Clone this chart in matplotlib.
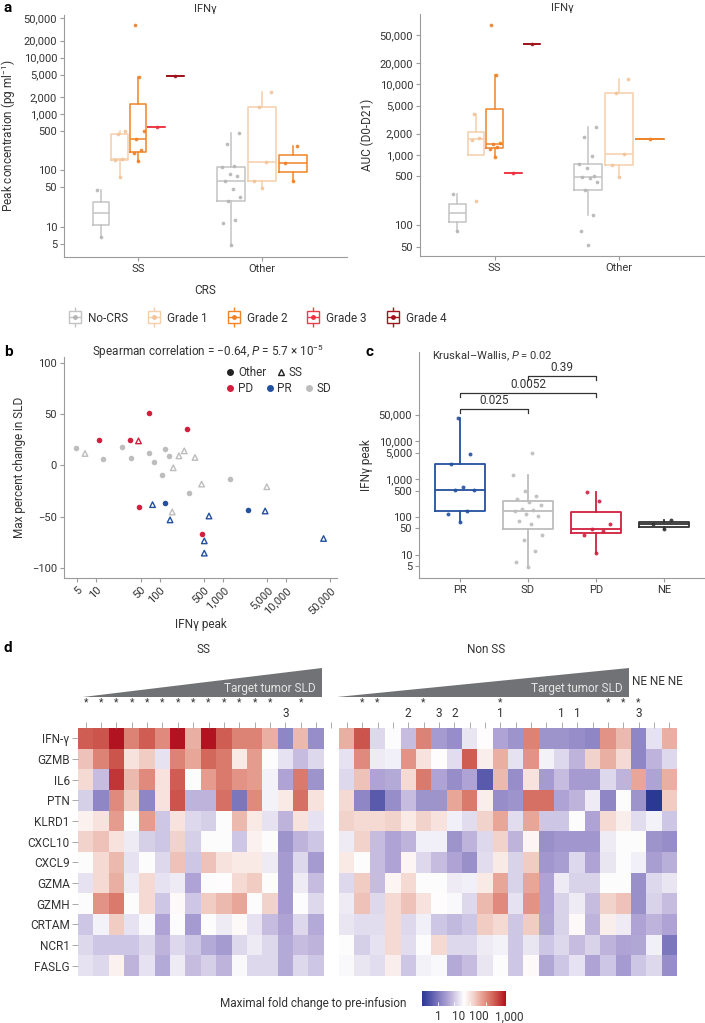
import numpy as np
import matplotlib.pyplot as plt
from matplotlib.colors import LinearSegmentedColormap, Normalize
from matplotlib.lines import Line2D
from matplotlib.legend_handler import HandlerTuple
from matplotlib.patches import Polygon

plt.rcParams['font.family'] = ['Roboto', 'DejaVu Sans']
plt.rcParams['font.size'] = 8
plt.rcParams['mathtext.fontset'] = 'custom'
plt.rcParams['mathtext.rm'] = 'Roboto'
plt.rcParams['mathtext.it'] = 'Roboto:italic'
plt.rcParams['axes.edgecolor'] = '#9b9b9b'
plt.rcParams['axes.linewidth'] = 0.8
plt.rcParams['xtick.color'] = '#9b9b9b'
plt.rcParams['ytick.color'] = '#9b9b9b'
plt.rcParams['xtick.labelcolor'] = '#333333'
plt.rcParams['ytick.labelcolor'] = '#333333'
plt.rcParams['text.color'] = '#333333'
plt.rcParams['axes.labelcolor'] = '#333333'

W, H = 705, 1023

# ---------------- data: panel a ----------------
crs_levels = ['No-CRS', 'Grade 1', 'Grade 2', 'Grade 3', 'Grade 4']
crs_colors = ['#c3c3c3', '#f5cfa9', '#f0842a', '#ee3d48', '#a3151e']
crs_point_colors = ['#b5b5b5', '#f2c39a', '#f07f26', '#ec3340', '#9e131c']

peak_ss_nocrs = [6.6, 44.8]
peak_ss_g1 = [75, 155, 160, 450, 500]
peak_ss_g2 = [147, 200, 231, 355, 493, 4480, 38500]
peak_ss_g3 = [596]
peak_ss_g4 = [4790]
peak_other_nocrs = [4.7, 11.8, 13, 28, 34, 47, 66, 79, 86, 113, 121, 290, 454]
peak_other_g1 = [48, 66, 139, 1310, 2430]
peak_other_g2 = [66, 133, 274]

auc_ss_nocrs = [83, 276]
auc_ss_g1 = [222, 1640, 1760, 3795]
auc_ss_g2 = [944, 1200, 1276, 1426, 1455, 13400, 70000]
auc_ss_g3 = [560]
auc_ss_g4 = [37250]
auc_other_nocrs = [52, 83, 141, 318, 410, 476, 481, 507, 659, 741, 964, 1790, 2480]
auc_other_g1 = [491, 718, 1018, 7530, 12000]
auc_other_g2 = [1680]

peak_ticks = [5, 10, 50, 100, 500, 1000, 2000, 5000, 10000, 20000, 50000]
auc_ticks = [50, 100, 500, 1000, 2000, 5000, 10000, 20000, 50000]

# ---------------- data: panel b ----------------
b_peak = [4.8, 6.6, 11.0, 12.6, 25.2, 33.7, 34.6, 46.3, 47.5, 66.7, 68.8, 80.0,
          77.2, 110, 121, 121, 140, 158, 146, 164, 202, 245, 270, 294, 362, 461,
          461, 508, 508, 603, 1313, 2535, 4660, 4950, 39100]
b_change = [17.5, 11.7, 25.3, 6.2, 17.9, 25.3, 6.8, 24.0, -40.6, 51.6, 12.3, 3.6,
            -38.3, -9.4, -36.7, 15.9, 9.7, -45.5, -53.2, -2.3, 9.4, 14.3, 35.4, -27.3,
            7.8, -18.2, -66.9, -73.7, -85.7, -49.4, -13.6, -43.8, -44.5, -20.8, -71.4]
b_response = ['SD', 'SD', 'PD', 'SD', 'SD', 'PD', 'SD', 'PD', 'PD', 'PD', 'SD', 'SD',
              'PR', 'SD', 'PR', 'SD', 'SD', 'SD', 'PR', 'SD', 'SD', 'SD', 'PD', 'SD',
              'SD', 'SD', 'PD', 'PR', 'PR', 'PR', 'SD', 'PR', 'PR', 'SD', 'PR']
b_indication = ['Other', 'SS', 'Other', 'Other', 'Other', 'Other', 'Other', 'SS',
                'Other', 'Other', 'Other', 'Other', 'SS', 'Other', 'Other', 'Other',
                'Other', 'SS', 'SS', 'SS', 'SS', 'SS', 'Other', 'Other', 'SS', 'SS',
                'Other', 'SS', 'SS', 'SS', 'Other', 'Other', 'SS', 'SS', 'SS']
resp_colors = {'PD': '#d0203f', 'PR': '#24519f', 'SD': '#bdbdbd', 'NE': '#333333'}
log_ticks = [5, 10, 50, 100, 500, 1000, 5000, 10000, 50000]

# ---------------- data: panel c ----------------
c_groups = ['PR', 'SD', 'PD', 'NE']
c_pr = [75, 122, 147, 526, 526, 618, 2550, 4590, 40800]
c_sd = [4.7, 6.6, 12.4, 24.8, 34, 67, 77, 108, 120, 141, 156, 163, 203, 244, 299,
        366, 475, 1309, 4980]
c_pd = [11, 34.2, 42.8, 47.3, 67, 270, 456]
c_ne = [48, 65, 82]
c_pvals = ['0.025', '0.0052', '0.39']
c_pairs = [(0, 1), (0, 2), (1, 2)]

# ---------------- data: panel d ----------------
genes = ['IFN-γ', 'GZMB', 'IL6', 'PTN', 'KLRD1', 'CXCL10', 'CXCL9', 'GZMA', 'GZMH',
         'CRTAM', 'NCR1', 'FASLG']
# log10 maximal fold change, SS patients
ss_fold = [
    [3.5, 3.6, 4.2, 3.1, 3.5, 3.0, 4.2, 2.6, 4.2, 3.5, 3.1, 3.1, 2.6, 0.2, 2.5, 0.3],
    [2.4, 3.1, 3.6, 2.0, 2.3, 1.3, 3.1, 2.7, 3.4, 3.2, 1.9, 2.8, 1.6, 1.3, 0.9, 1.2],
    [2.1, 0.9, 3.9, 2.5, 3.0, 2.0, 3.5, 1.6, 2.8, 3.2, 2.9, 2.8, 1.5, 0.6, 3.2, 0.4],
    [1.1, 0.2, 3.0, 2.3, 0.2, 2.0, 3.6, 0.8, 0.8, 3.3, 0.0, 3.0, 1.5, 1.9, 3.3, 2.0],
    [1.8, 2.0, 2.8, 1.6, 2.8, 1.0, 2.0, 1.2, 1.1, 1.6, 2.5, 1.9, 1.3, 0.8, 2.0, 1.3],
    [2.2, 2.4, 2.0, 1.4, 1.1, 1.0, 2.2, 1.1, 1.6, 1.6, 1.0, 1.8, 1.6, 0.4, 0.8, 1.0],
    [1.6, 2.1, 2.5, 1.3, 1.6, 1.2, 2.4, 1.0, 2.4, 2.0, 1.9, 1.9, 1.4, 0.5, 1.2, 0.5],
    [1.3, 2.1, 2.6, 1.4, 2.1, 1.3, 1.4, 0.6, 1.6, 1.65, 2.1, 2.3, 1.6, 0.5, 1.4, 0.9],
    [1.6, 2.9, 3.2, 1.6, 2.1, 1.0, 1.7, 1.0, 2.3, 2.5, 2.7, 1.6, 2.2, 0.5, 1.6, 1.2],
    [1.0, 1.5, 2.3, 1.3, 1.55, 0.6, 1.6, 0.5, 1.6, 1.4, 1.7, 1.3, 0.9, 0.6, 1.2, 0.7],
    [1.2, 1.0, 1.0, 1.0, 1.2, 0.8, 1.2, 1.0, 0.7, 0.5, 1.2, 1.4, 1.2, 0.7, 0.9, 0.8],
    [1.3, 1.2, 1.8, 0.8, 1.3, 0.7, 1.4, 0.9, 1.1, 0.8, 1.55, 1.2, 1.2, 0.7, 1.2, 1.0],
]
# log10 maximal fold change, non-SS patients
nss_fold = [
    [2.6, 3.6, 1.2, 1.6, 0.9, 3.1, 0.5, 0.3, 1.35, 1.65, 0.6, 0.4, 3.1, 0.4, 0.4, 0.3, 0.2, 2.9, 2.5, 0.2, 1.3, 2.6],
    [1.3, 3.0, 1.4, 1.45, 2.9, 2.0, 1.65, 1.25, 3.5, 1.85, 2.6, 1.3, 2.9, 1.5, 1.2, 0.8, 2.2, 2.6, 2.1, 0.2, 0.8, 1.2],
    [1.2, 2.4, 0.6, 0.7, 2.1, 3.2, 0.6, 0.3, 0.6, -0.4, 2.5, 0.3, 2.0, 0.5, 0.9, 0.5, 0.5, 1.2, 0.8, 2.7, 0.6, 2.6],
    [2.1, 0.2, -0.4, 0.3, 0.9, 0.4, 0.4, 2.7, 3.2, 1.85, 0.3, 0.4, 3.3, 3.3, 0.6, 0.8, 1.4, 0.2, 1.6, 0.4, -1.0, 2.3],
    [2.2, 2.1, 2.1, 2.2, 1.9, 2.2, 2.0, 1.45, 1.25, 2.2, 2.7, 1.25, 2.7, 1.0, 1.0, 1.6, 0.6, 2.1, 1.85, 1.25, 1.5, 1.0],
    [1.4, 2.2, 0.9, 0.6, 0.8, 1.45, 1.45, 0.4, 0.8, 1.2, 2.2, 0.8, 1.75, 0.35, 0.45, 0.45, 0.45, 1.4, 1.6, 1.6, 0.4, 0.3],
    [1.9, 1.6, 0.9, 0.6, 1.75, 1.2, 0.9, 0.6, 0.35, 1.25, 1.9, 1.15, 2.3, 0.45, 0.55, 1.2, 0.6, 1.35, 1.6, 1.45, 0.55, 0.75],
    [1.2, 2.3, 0.9, 1.75, 2.1, 1.6, 1.6, 1.4, 1.45, 1.9, 2.7, 1.15, 2.7, 0.6, 1.4, 1.15, 1.15, 1.6, 1.6, 0.35, 1.2, 1.35],
    [1.4, 2.4, 1.2, 2.1, 2.4, 2.0, 1.65, 1.55, 1.2, 2.5, 3.0, 1.3, 2.9, 0.6, 1.15, 1.4, 0.9, 2.2, 2.4, 0.35, 1.15, 0.9],
    [1.35, 1.25, 1.25, 2.1, 1.2, 1.45, 1.0, 0.85, 1.0, 2.3, 2.1, 1.0, 2.3, 0.65, 1.15, 1.7, 0.8, 1.85, 1.4, 0.6, 0.8, 0.6],
    [1.6, 1.1, 1.3, 2.1, 1.25, 1.6, 2.1, 1.2, 1.2, 1.4, 1.5, 1.0, 1.35, 1.0, 1.2, 0.9, 1.15, 0.8, 0.6, 0.65, 1.45, 0.0],
    [1.55, 1.35, 1.25, 1.85, 1.0, 1.5, 1.55, 0.7, 0.9, 1.35, 1.6, 1.0, 1.7, 0.65, 1.0, 1.3, 0.6, 1.0, 0.5, 1.0, 1.2, 0.3],
]
ss_marks = ['*'] * 13 + ['', '*', '']
ss_counts = [''] * 13 + ['3', '', '']
nss_marks = ['', '*', '*', '', '', '*', '', '', '', '', '*', '', '', '', '', '', '', '*', '*', '*', '', '']
nss_counts = ['', '', '', '', '2', '', '3', '2', '', '', '1', '', '', '', '1', '1', '', '', '', '3', '', '']
fold_ticks = [0, 1, 2, 3]
fold_labels = ['1', '10', '100', '1,000']


def rect(x0, y0, x1, y1):
    # pixel box (top-left origin) -> figure fraction
    return [x0 / W, 1 - y1 / H, (x1 - x0) / W, (y1 - y0) / H]


def log_box(vals):
    lv = np.log10(vals)
    q1, med, q3 = np.percentile(lv, [25, 50, 75])
    iqr = q3 - q1
    keep = lv[(lv >= q1 - 1.5 * iqr) & (lv <= q3 + 1.5 * iqr)]
    return dict(med=10 ** med, q1=10 ** q1, q3=10 ** q3,
                whislo=10 ** min(keep.min(), q1), whishi=10 ** max(keep.max(), q3),
                fliers=[])


def jitter(n, width):
    return ((np.arange(n) * 0.618034 + 0.5) % 1 - 0.5) * width


def draw_box(ax, vals, x, w, color, pcolor, lw=1.1, spread=0.7, s=7):
    props = dict(color=color, linewidth=lw)
    ax.bxp([log_box(vals)], positions=[x], widths=w, showcaps=False, showfliers=False,
           boxprops=props, whiskerprops=props, medianprops=props, manage_ticks=False)
    ax.scatter(x + jitter(len(vals), w * spread), vals, s=s, color=pcolor,
               linewidths=0, alpha=0.9, zorder=3)


def comma(v):
    return f'{v:,}'


def style_axes(ax):
    for side in ['top', 'right']:
        ax.spines[side].set_visible(False)
    ax.tick_params(length=3, width=0.8, labelsize=8, pad=2)


def draw_crs_panel(ax, groups, ticks, ylim, ylabel):
    for gi, sets in enumerate(groups):
        n = len(sets)
        step = 0.75 / n
        for li, vals in enumerate(sets):
            x = gi + 1 + (li - (n - 1) / 2) * step
            draw_box(ax, vals, x, step * 0.9, crs_colors[li], crs_point_colors[li])
    ax.set_yscale('log')
    ax.set_ylim(*ylim)
    ax.set_xlim(0.4, 2.69)
    ax.set_yticks(ticks)
    ax.set_yticklabels([comma(t) for t in ticks])
    ax.yaxis.set_minor_locator(plt.NullLocator())
    ax.set_xticks([1, 2])
    ax.set_xticklabels(['SS', 'Other'], fontsize=8.5)
    ax.set_ylabel(ylabel, fontsize=8.5)
    ax.set_title('IFNγ', fontsize=8, pad=2)
    style_axes(ax)


fig = plt.figure(figsize=(W / 100, H / 100), dpi=100)

# ---------------- panel a ----------------
ax_a1 = fig.add_axes(rect(64, 15, 347, 257))
draw_crs_panel(ax_a1,
               [[peak_ss_nocrs, peak_ss_g1, peak_ss_g2, peak_ss_g3, peak_ss_g4],
                [peak_other_nocrs, peak_other_g1, peak_other_g2]],
               peak_ticks, (2.9, 57000), 'Peak concentration (pg ml$^{-1}$)')
ax_a1.set_xlabel('CRS', fontsize=8.5, labelpad=7)

ax_a2 = fig.add_axes(rect(420, 14, 705, 256))
draw_crs_panel(ax_a2,
               [[auc_ss_nocrs, auc_ss_g1, auc_ss_g2, auc_ss_g3, auc_ss_g4],
                [auc_other_nocrs, auc_other_g1, auc_other_g2]],
               auc_ticks, (36.9, 99000), 'AUC (D0-D21)')

handles = []
for c, pc in zip(crs_colors, crs_point_colors):
    handles.append((Line2D([], [], marker='|', ms=15, mew=1, color=c, ls=''),
                    Line2D([], [], marker='s', ms=8, mfc='white', mec=c, mew=1, ls=''),
                    Line2D([], [], marker='_', ms=8, mew=1, color=c, ls=''),
                    Line2D([], [], marker='o', ms=3.5, color=pc, mew=0, ls='')))
fig.legend(handles, crs_levels, loc='center left', bbox_to_anchor=(56 / W, 1 - 318 / H),
           ncol=5, frameon=False, fontsize=8.5, handlelength=1.4, handletextpad=0.4,
           columnspacing=1.5, handler_map={tuple: HandlerTuple(ndivide=1)})

# ---------------- panel b ----------------
ax_b = fig.add_axes(rect(64, 357, 337, 578))
for ind in ['Other', 'SS']:
    for resp in ['PD', 'PR', 'SD']:
        idx = [i for i in range(len(b_peak)) if b_indication[i] == ind and b_response[i] == resp]
        xs = [b_peak[i] for i in idx]
        ys = [b_change[i] for i in idx]
        col = resp_colors[resp]
        if ind == 'Other':
            ax_b.scatter(xs, ys, s=16, color=col, linewidths=0, zorder=3)
        else:
            ax_b.scatter(xs, ys, s=16, marker='^', facecolors='none', edgecolors=col,
                         linewidths=1.0, zorder=3)
ax_b.set_xscale('log')
ax_b.set_xlim(3.07, 63800)
ax_b.set_ylim(-110, 106)
ax_b.set_xticks(log_ticks)
ax_b.set_xticklabels([comma(t) for t in log_ticks], rotation=45, ha='right',
                     rotation_mode='anchor')
ax_b.xaxis.set_minor_locator(plt.NullLocator())
ax_b.set_yticks([-100, -50, 0, 50, 100])
ax_b.set_yticklabels(['−100', '−50', '0', '50', '100'])
style_axes(ax_b)
ax_b.set_xlabel('IFNγ peak', fontsize=8.5, labelpad=2)
ax_b.set_ylabel('Max percent change in SLD', fontsize=8.5)
shape_handles = [Line2D([], [], marker='o', ms=4, color='#222222', ls=''),
                 Line2D([], [], marker='^', ms=4, mfc='none', mec='#222222', mew=1, ls='')]
leg1 = ax_b.legend(shape_handles, ['Other', 'SS'], loc='upper left',
                   bbox_to_anchor=(0.575, 0.985), ncol=2, frameon=False, fontsize=8.5,
                   handlelength=0.6, handletextpad=0.35, columnspacing=0.9, borderpad=0)
ax_b.add_artist(leg1)
resp_handles = [Line2D([], [], marker='o', ms=4, color=resp_colors[r], ls='')
                for r in ['PD', 'PR', 'SD']]
ax_b.legend(resp_handles, ['PD', 'PR', 'SD'], loc='upper left',
            bbox_to_anchor=(0.575, 0.915), ncol=3, frameon=False, fontsize=8.5,
            handlelength=0.6, handletextpad=0.35, columnspacing=1.1, borderpad=0)
fig.text(92 / W, 1 - 352 / H,
         'Spearman correlation = −0.64, $\\mathit{P}$ = 5.7 × 10$^{-5}$',
         fontsize=8.5, va='center')

# ---------------- panel c ----------------
ax_c = fig.add_axes(rect(419, 352, 705, 578))
for i, (g, vals) in enumerate(zip(c_groups, [c_pr, c_sd, c_pd, c_ne])):
    draw_box(ax_c, vals, i + 1, 0.74, resp_colors[g], resp_colors[g], lw=1.3,
             spread=0.6, s=8)
ax_c.set_yscale('log')
ax_c.set_ylim(2.47, 10 ** 6.35)
ax_c.set_xlim(0.4, 4.6)
ax_c.set_yticks(log_ticks)
ax_c.set_yticklabels([comma(t) for t in log_ticks])
ax_c.yaxis.set_minor_locator(plt.NullLocator())
ax_c.set_xticks([1, 2, 3, 4])
ax_c.set_xticklabels(c_groups, fontsize=8.5)
ax_c.set_ylabel('IFNγ peak', fontsize=8.5)
style_axes(ax_c)
for (a, b), p, lev in zip(c_pairs, c_pvals, [4.86, 5.28, 5.73]):
    y = 10 ** lev
    ax_c.plot([a + 1, a + 1, b + 1, b + 1], [10 ** (lev - 0.11), y, y, 10 ** (lev - 0.11)],
              color='#333333', lw=0.9)
    ax_c.text((a + b) / 2 + 1, 10 ** (lev + 0.04), p, ha='center', va='bottom', fontsize=8.5)
fig.text(432 / W, 1 - 356 / H, 'Kruskal–Wallis, $\\mathit{P}$ = 0.02', fontsize=8,
         va='center')

# ---------------- panel d ----------------
cmap = LinearSegmentedColormap.from_list('fold', [
    (0.0, '#2b3894'), (0.12, '#5d5cae'), (0.23, '#9087c6'), (0.30, '#aca1d3'),
    (0.37, '#c9c1e2'), (0.43, '#e3deef'), (0.5, '#ffffff'), (0.62, '#f2d0c8'),
    (0.71, '#e8a496'), (0.80, '#da7a6c'), (0.90, '#c84a44'), (1.0, '#b10f1d')])
norm = Normalize(vmin=-1, vmax=4.25)

ss_arr = np.array(ss_fold)
nss_arr = np.array(nss_fold)
gap = np.full((len(genes), 1), np.nan)
mat = np.hstack([ss_arr, gap, nss_arr])

ax_d = fig.add_axes(rect(78, 728, 677, 976))
im = ax_d.imshow(np.ma.masked_invalid(mat), cmap=cmap, norm=norm, aspect='auto',
                 interpolation='nearest')
for s in ax_d.spines.values():
    s.set_visible(False)
ax_d.set_yticks(range(len(genes)))
ax_d.set_yticklabels(genes, fontsize=8.5)
ax_d.xaxis.tick_top()
ax_d.set_xticks(range(mat.shape[1]))
ax_d.set_xticklabels([])
ax_d.tick_params(axis='both', length=4, width=0.6, color='#9b9b9b', pad=2)

marks = ss_marks + [''] + nss_marks
counts = ss_counts + [''] + nss_counts
for j, (m, c) in enumerate(zip(marks, counts)):
    if m:
        ax_d.text(j, -1.72, m, ha='center', va='center', fontsize=7.5, clip_on=False)
    if c:
        ax_d.text(j, -1.22, c, ha='center', va='center', fontsize=8.5, clip_on=False)

for x0, x1, label_x, name in [(-0.17, 15.39, 7.64, 'SS'), (16.36, 35.37, 26.06, 'Non SS')]:
    tri = Polygon([(x0, -2.0), (x1, -2.0), (x1, -3.4)], closed=True, facecolor='#717275',
                  edgecolor='none', clip_on=False)
    ax_d.add_patch(tri)
    ax_d.text(x1 - 0.4, -2.4, 'Target tumor SLD', ha='right', va='center', fontsize=8.5,
              color='#e4e4e4', clip_on=False)
    ax_d.text(label_x, -4.32, name, ha='center', va='center', fontsize=8.5, clip_on=False)
ax_d.text(35.6, -2.77, 'NE NE NE', ha='left', va='center', fontsize=8.5, clip_on=False)

cax = fig.add_axes(rect(422, 991, 506, 1006))
cb = fig.colorbar(im, cax=cax, orientation='horizontal', ticks=fold_ticks)
cb.outline.set_visible(False)
cax.tick_params(direction='in', length=3, width=0.6, color='white', labelbottom=False)
for lab, px in zip(fold_labels, [438, 459, 479, 509]):
    fig.text(px / W, 1 - 1017 / H, lab, ha='center', va='center', fontsize=8.5)
fig.text(406 / W, 1 - 1004 / H, 'Maximal fold change to pre-infusion', ha='right',
         va='center', fontsize=8.5)

# panel letters
for letter, px, py in [('a', 4, 8), ('b', 4, 352), ('c', 366, 352), ('d', 4, 648)]:
    fig.text(px / W, 1 - py / H, letter, fontsize=11, fontweight='bold', color='black',
             va='center')

fig.savefig('out.png', dpi=100)
